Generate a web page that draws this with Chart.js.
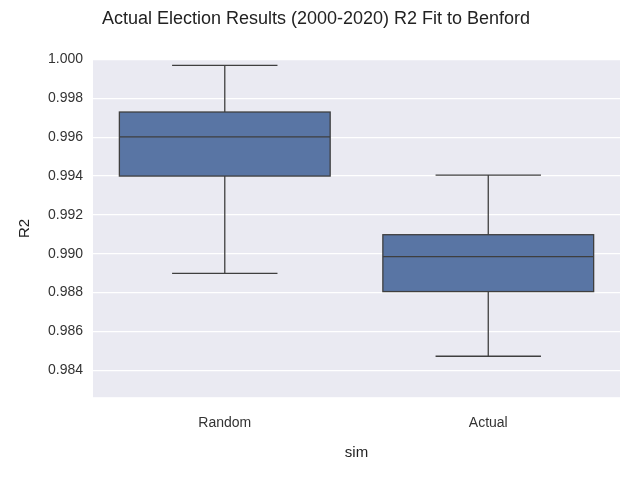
<!DOCTYPE html>
<html><head><meta charset="utf-8">
<script src="https://cdn.jsdelivr.net/npm/chart.js@4"></script>
<style>html,body{margin:0;padding:0;background:#fff}#w{width:640px;height:480px}</style>
</head><body><div id="w"><canvas id="c"></canvas></div>
<script>
const categories = ["Random", "Actual"];
const whiskerLow = [0.98899, 0.98472];
const q1 = [0.99400, 0.98805];
const median = [0.99602, 0.98985];
const q3 = [0.99730, 0.99098];
const whiskerHigh = [0.99970, 0.99405];
const yTicks = [0.984, 0.986, 0.988, 0.990, 0.992, 0.994, 0.996, 0.998, 1.000];

const edge = '#3f3f3f';
const F = 'Liberation Sans, Arial, sans-serif';
const bgPlugin = {
  id: 'bg',
  beforeDraw(chart) {
    const {ctx, chartArea: a} = chart;
    ctx.save(); ctx.fillStyle = '#eaeaf2';
    ctx.fillRect(a.left, a.top, a.right - a.left, a.bottom - a.top);
    ctx.restore();
  }
};
const boxPlugin = {
  id: 'box',
  afterDatasetsDraw(chart) {
    const {ctx} = chart;
    const y = chart.scales.y;
    const meta = chart.getDatasetMeta(0);
    ctx.save(); ctx.strokeStyle = edge; ctx.lineWidth = 1.3;
    meta.data.forEach((bar, i) => {
      const x = bar.x, hw = bar.width / 2;
      const line = (x1, y1, x2, y2) => { ctx.beginPath(); ctx.moveTo(x1, y1); ctx.lineTo(x2, y2); ctx.stroke(); };
      const pl = y.getPixelForValue(whiskerLow[i]), pq1 = y.getPixelForValue(q1[i]);
      const pq3 = y.getPixelForValue(q3[i]), ph = y.getPixelForValue(whiskerHigh[i]);
      const pm = y.getPixelForValue(median[i]);
      line(x, pq1, x, pl); line(x, pq3, x, ph);
      line(x - hw / 2, pl, x + hw / 2, pl); line(x - hw / 2, ph, x + hw / 2, ph);
      line(x - hw, pm, x + hw, pm);
      ctx.strokeRect(x - hw, pq3, 2 * hw, pq1 - pq3);
    });
    ctx.restore();
  }
};

new Chart(document.getElementById('c'), {
  type: 'bar',
  data: {
    labels: categories,
    datasets: [{
      data: categories.map((_, i) => [q1[i], q3[i]]),
      backgroundColor: '#5975a4',
      borderWidth: 0,
      borderSkipped: false,
      categoryPercentage: 0.8,
      barPercentage: 1.0
    }]
  },
  options: {
    responsive: true, maintainAspectRatio: false, animation: false,
    layout: {padding: {left: 12, right: 20, top: 4, bottom: 14}},
    plugins: {
      legend: {display: false}, tooltip: {enabled: false},
      title: {display: true, text: 'Actual Election Results (2000-2020) R2 Fit to Benford',
        color: '#222', font: {family: F, size: 18, weight: 'normal'}, padding: {top: 4, bottom: 30}}
    },
    scales: {
      x: {
        grid: {display: false}, border: {display: false},
        ticks: {color: '#333', font: {family: F, size: 14}, padding: 10},
        title: {display: true, text: 'sim', color: '#222', font: {family: F, size: 15}, padding: {top: 2}}
      },
      y: {
        min: 0.98261, max: 1.0,
        afterBuildTicks(s) { s.ticks = yTicks.map(v => ({value: v})); },
        grid: {color: '#ffffff', lineWidth: 1.2, drawTicks: false}, border: {display: false},
        ticks: {color: '#333', font: {family: F, size: 14}, padding: 10, callback: v => v.toFixed(3)},
        title: {display: true, text: 'R2', color: '#222', font: {family: F, size: 15}, padding: {bottom: 4}}
      }
    }
  },
  plugins: [bgPlugin, boxPlugin]
});
</script></body></html>
